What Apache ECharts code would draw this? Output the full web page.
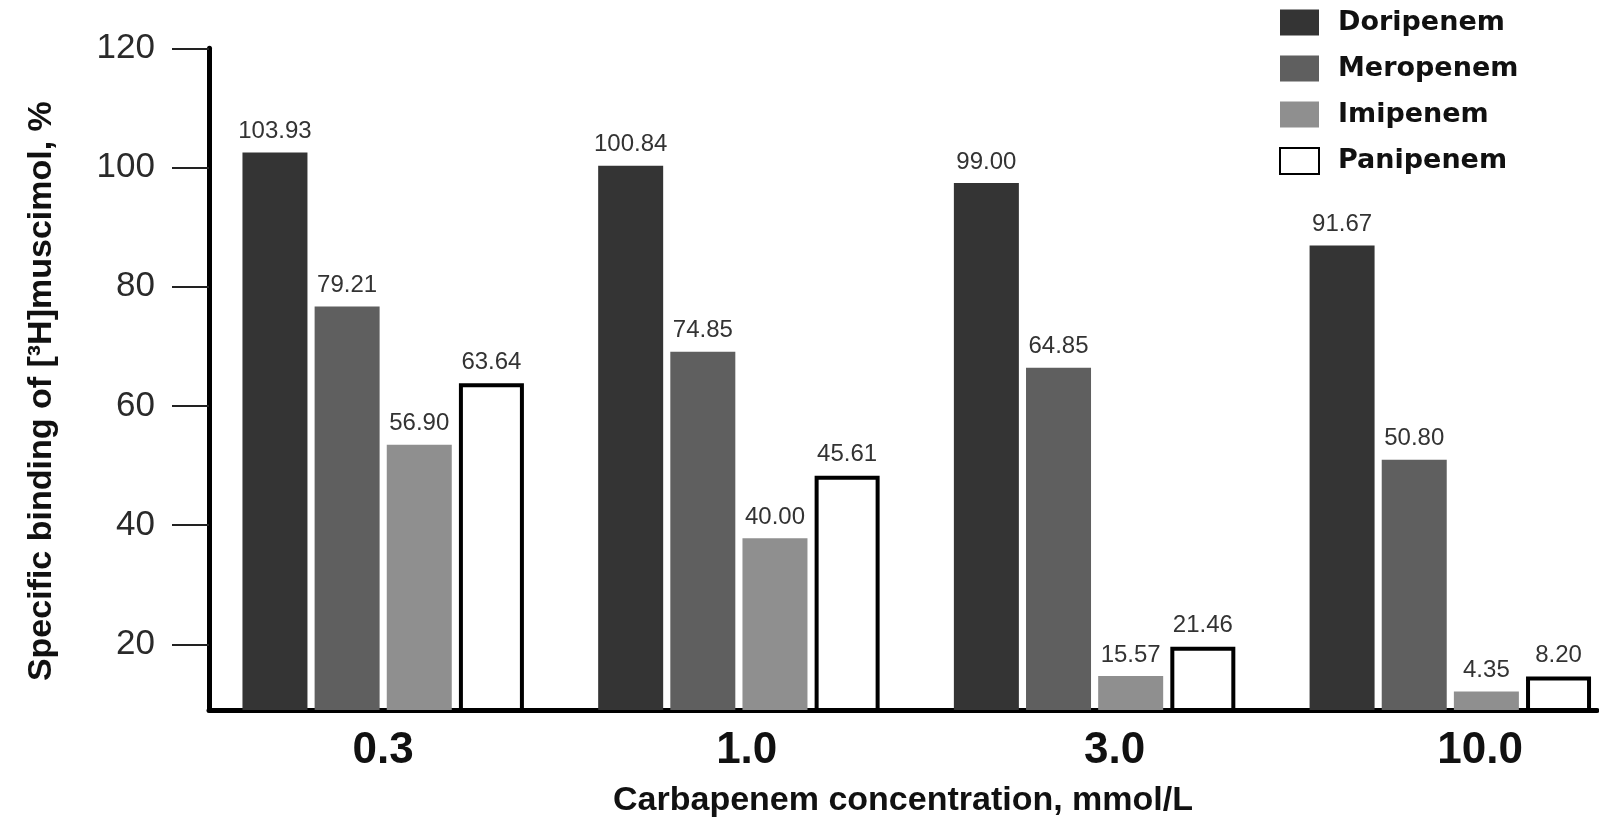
<!DOCTYPE html>
<html>
<head>
<meta charset="utf-8">
<script src="https://cdn.jsdelivr.net/npm/echarts@6/dist/echarts.min.js"></script>
<style>
html,body{margin:0;padding:0;background:#fff;}
#chart{width:1599px;height:823px;}
</style>
</head>
<body>
<div id="chart"></div>
<script>
// Categories (carbapenem concentration, mmol/L)
var categories = ['0.3', '1.0', '3.0', '10.0'];
var seriesNames = ['Doripenem', 'Meropenem', 'Imipenem', 'Panipenem'];

var doripenem = [102.5, 100.3, 97.4, 86.9];
var meropenem = [76.7, 69.1, 66.4, 51.0];
var imipenem  = [53.5, 37.8, 14.7, 12.1];
var panipenem = [63.8, 48.3, 19.6, 14.6];

// Value labels printed above the bars
var doripenemLabels = ['103.93', '100.84', '99.00', '91.67'];
var meropenemLabels = ['79.21', '74.85', '64.85', '50.80'];
var imipenemLabels  = ['56.90', '40.00', '15.57', '4.35'];
var panipenemLabels = ['63.64', '45.61', '21.46', '8.20'];

// Y-axis tick labels
var yTicks = [20, 40, 60, 80, 100, 120];

var FONT = '"Liberation Sans", Arial, Helvetica, sans-serif';
var LEGEND_FONT = '"DejaVu Sans", Verdana, sans-serif';

// category positions on the (numeric) x axis
var catIndex = categories.map(function (c, i) { return i; });
// the original figure sets its category labels slightly right of the group centres
var labelShift = [0, 0.022, 0.056, 0.084];

function pairs(values) {
  return values.map(function (v, i) { return [catIndex[i], v]; });
}

function barSeries(name, data, labels, itemStyle) {
  return {
    name: name,
    type: 'bar',
    data: pairs(data),
    barWidth: 65,
    barGap: '11%',
    itemStyle: itemStyle,
    label: {
      show: true,
      position: 'top',
      distance: 9,
      fontFamily: FONT,
      fontSize: 24,
      color: '#333',
      formatter: function (p) { return labels[p.dataIndex]; }
    }
  };
}

var chart = echarts.init(document.getElementById('chart'), null, {renderer: 'canvas'});
chart.setOption({
  animation: false,
  backgroundColor: '#ffffff',
  textStyle: {fontFamily: FONT},
  grid: {left: 209, right: 2, top: 48.3, bottom: 104.3, containLabel: false},
  legend: {
    orient: 'vertical',
    left: 1279,
    top: 9,
    padding: 0,
    itemWidth: 39,
    itemHeight: 26,
    itemGap: 19,
    icon: 'rect',
    data: seriesNames,
    textStyle: {fontFamily: LEGEND_FONT, fontSize: 27, fontWeight: 'bold', color: '#111', padding: [0, 0, 0, 14]}
  },
  xAxis: {
    type: 'value',
    min: -0.4897,
    max: 3.4124,
    name: 'Carbapenem concentration, mmol/L',
    nameLocation: 'middle',
    nameGap: 74,
    nameTextStyle: {fontFamily: FONT, fontSize: 34, fontWeight: 'bold', color: '#111'},
    axisLine: {show: true, onZero: false, lineStyle: {color: '#000', width: 5}},
    axisTick: {show: false},
    axisLabel: {
      show: true,
      customValues: catIndex.map(function (i) { return i + labelShift[i]; }),
      formatter: function (v) { return categories[Math.round(v)]; },
      fontFamily: FONT, fontSize: 44, fontWeight: 'bold', color: '#111', margin: 19
    },
    splitLine: {show: false}
  },
  yAxis: {
    type: 'value',
    min: 9,
    max: 120,
    name: 'Specific binding of [\u00B3H]muscimol, %',
    nameLocation: 'middle',
    nameRotate: 90,
    nameGap: 150,
    nameTextStyle: {fontFamily: FONT, fontSize: 34, fontWeight: 'bold', color: '#111', padding: [0, 24, 0, 0]},
    axisLine: {show: true, onZero: false, lineStyle: {color: '#000', width: 5}},
    axisTick: {show: true, customValues: yTicks, length: 37, lineStyle: {color: '#222', width: 2}},
    axisLabel: {customValues: yTicks, fontFamily: FONT, fontSize: 35, color: '#2a2a2a', margin: 54},
    splitLine: {show: false}
  },
  series: [
    barSeries(seriesNames[0], doripenem, doripenemLabels, {color: '#343434'}),
    barSeries(seriesNames[1], meropenem, meropenemLabels, {color: '#5f5f5f'}),
    barSeries(seriesNames[2], imipenem, imipenemLabels, {color: '#8f8f8f'}),
    barSeries(seriesNames[3], panipenem, panipenemLabels, {color: '#ffffff', borderColor: '#000', borderWidth: 4})
  ]
});
</script>
</body>
</html>
